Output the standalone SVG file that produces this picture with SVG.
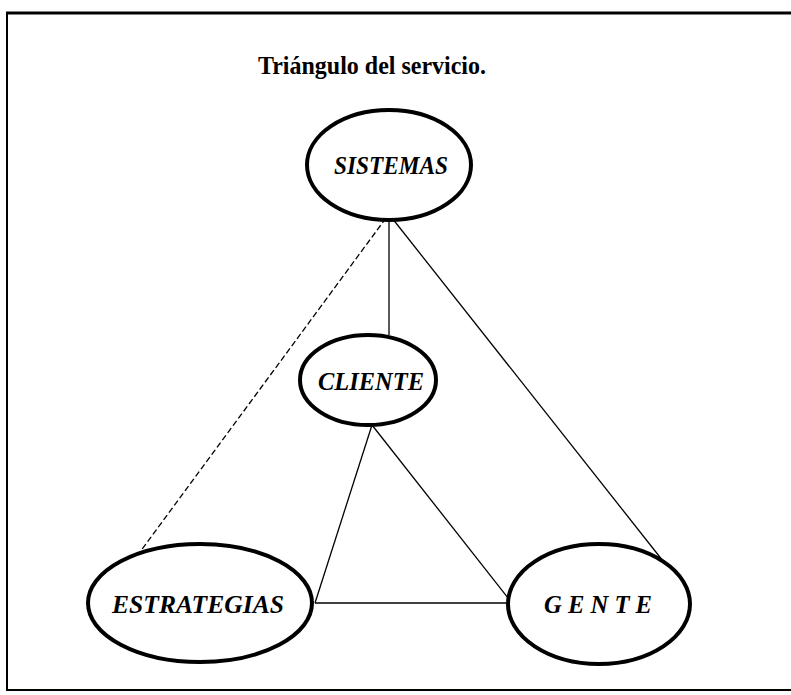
<svg xmlns="http://www.w3.org/2000/svg" width="791" height="695" viewBox="0 0 791 695">
<style>
.node ellipse{fill:#fff;stroke:#000;stroke-width:4}
.node text{font-family:"Liberation Serif",serif;font-weight:bold;font-style:italic;font-size:26px;text-anchor:middle;fill:#000}
.conn line{stroke:#000;stroke-width:1.3;fill:none}
.frame{stroke:#000;fill:none}
</style>
<rect width="791" height="695" fill="#fff"/>
<g id="frame">
<line class="frame" x1="6" y1="13" x2="791" y2="13" stroke-width="3"/>
<line class="frame" x1="7" y1="12" x2="7" y2="691" stroke-width="2"/>
<line class="frame" x1="6" y1="690" x2="791" y2="690" stroke-width="2"/>
</g>
<text id="title" x="372" y="74" font-family="'Liberation Serif',serif" font-weight="bold" font-size="26" text-anchor="middle" textLength="228" lengthAdjust="spacingAndGlyphs">Triángulo del servicio.</text>
<g id="connectors" class="conn">
<line x1="389" y1="220" x2="389" y2="335"/>
<line x1="386" y1="218" x2="140" y2="552" stroke-dasharray="6 3"/>
<line x1="392" y1="218" x2="663" y2="561"/>
<line x1="372" y1="425" x2="315" y2="603"/>
<line x1="372" y1="425" x2="512" y2="603"/>
<line x1="315" y1="603" x2="512" y2="603"/>
</g>
<g id="sistemas" class="node">
<ellipse cx="389" cy="165" rx="82" ry="55"/>
<text x="391" y="174" textLength="114" lengthAdjust="spacingAndGlyphs">SISTEMAS</text>
</g>
<g id="cliente" class="node">
<ellipse cx="368" cy="380" rx="68" ry="45"/>
<text x="371" y="390" textLength="106" lengthAdjust="spacingAndGlyphs">CLIENTE</text>
</g>
<g id="estrategias" class="node">
<ellipse cx="200" cy="603" rx="112" ry="59"/>
<text x="198" y="613" textLength="172" lengthAdjust="spacingAndGlyphs">ESTRATEGIAS</text>
</g>
<g id="gente" class="node">
<ellipse cx="599" cy="604" rx="91" ry="60"/>
<text x="598" y="613" textLength="108" lengthAdjust="spacingAndGlyphs">G E N T E</text>
</g>
</svg>
